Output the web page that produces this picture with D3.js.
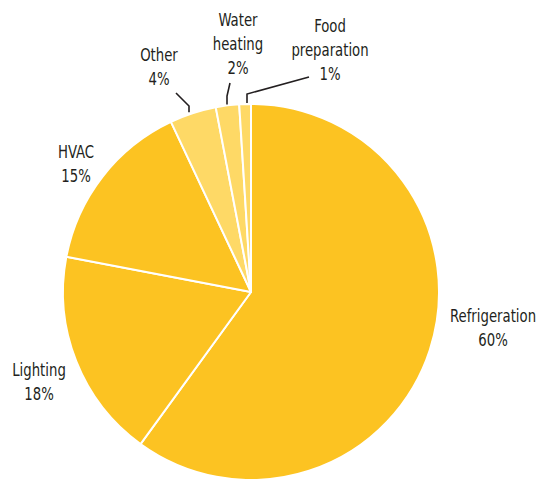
<!DOCTYPE html>
<html>
<head>
<meta charset="utf-8">
<script src="https://cdn.jsdelivr.net/npm/d3@7"></script>
<style>
  body { margin: 0; background: #fff; }
  text { font-family: "DejaVu Sans", sans-serif; font-stretch: condensed; fill: #231f20; }
</style>
</head>
<body>
<div class="pieChart"></div>
<script>
// Chart data
const categories = ["Refrigeration", "Lighting", "HVAC", "Other", "Water heating", "Food preparation"];
const shares = [60, 18, 15, 4, 2, 1];
const labelLines = [["Refrigeration"], ["Lighting"], ["HVAC"], ["Other"], ["Water", "heating"], ["Food", "preparation"]];

const width = 536;
const height = 479;
const cx = 251, cy = 292, radius = 188;

const svg = d3.select(".pieChart")
    .append("svg")
    .attr("width", width)
    .attr("height", height);

const g = svg.append("g")
    .attr("transform", "translate(" + cx + "," + cy + ")");

// Colour: main slices darker, small ones lighter
const color = d3.scaleOrdinal()
    .domain(categories)
    .range(["#fcc322", "#fcc322", "#fcc322", "#fed966", "#fed966", "#fed966"]);

const pie = d3.pie().sort(null).value(d => d.value);
const arcs = pie(categories.map((c, i) => ({ name: c, value: shares[i], lines: labelLines[i] })));

const arc = d3.arc().innerRadius(0).outerRadius(radius);

g.selectAll("path")
    .data(arcs)
    .join("path")
    .attr("d", arc)
    .attr("fill", d => color(d.data.name))
    .attr("stroke", "#fff")
    .attr("stroke-width", 2)
    .attr("stroke-linejoin", "round");

// Label placement (relative to pie centre) - x, y of first baseline
const labelPos = [
    { x: 242, y: 30 },
    { x: -212, y: 84 },
    { x: -175, y: -134 },
    { x: -92, y: -231 },
    { x: -13, y: -266 },
    { x: 79, y: -260 }
];
const lineHeight = 24;

// squeeze the text horizontally to get a narrow face like the original
const labels = g.selectAll(".label")
    .data(arcs)
    .join("text")
    .attr("class", "label")
    .attr("text-anchor", "middle")
    .attr("transform", (d, i) => "translate(" + labelPos[i].x + "," + labelPos[i].y + ") scale(0.82,1)")
    .style("font-size", "18px");

labels.each(function (d) {
    const t = d3.select(this);
    const lines = d.data.lines.concat([d.data.value + "%"]);
    lines.forEach((l, j) => {
        t.append("tspan")
            .attr("x", 0)
            .attr("y", j * lineHeight)
            .text(l);
    });
});

// Leader lines for small slices
const leaders = [
    { i: 3, pts: [[-75, -199], [-62, -186]] },
    { i: 4, pts: [[-21, -209], [-24, -196]] },
    { i: 5, pts: [[58, -215], [-4, -198]] }
];
leaders.forEach(l => {
    const a = arcs[l.i];
    const mid = (a.startAngle + a.endAngle) / 2;
    const end = [Math.sin(mid) * (radius + 1), -Math.cos(mid) * (radius + 1)];
    const pts = l.pts.concat([[l.pts[l.pts.length - 1][0], end[1]]]);
    g.append("path")
        .attr("d", d3.line()(pts))
        .attr("fill", "none")
        .attr("stroke", "#231f20")
        .attr("stroke-width", 1.6);
});
</script>
</body>
</html>
